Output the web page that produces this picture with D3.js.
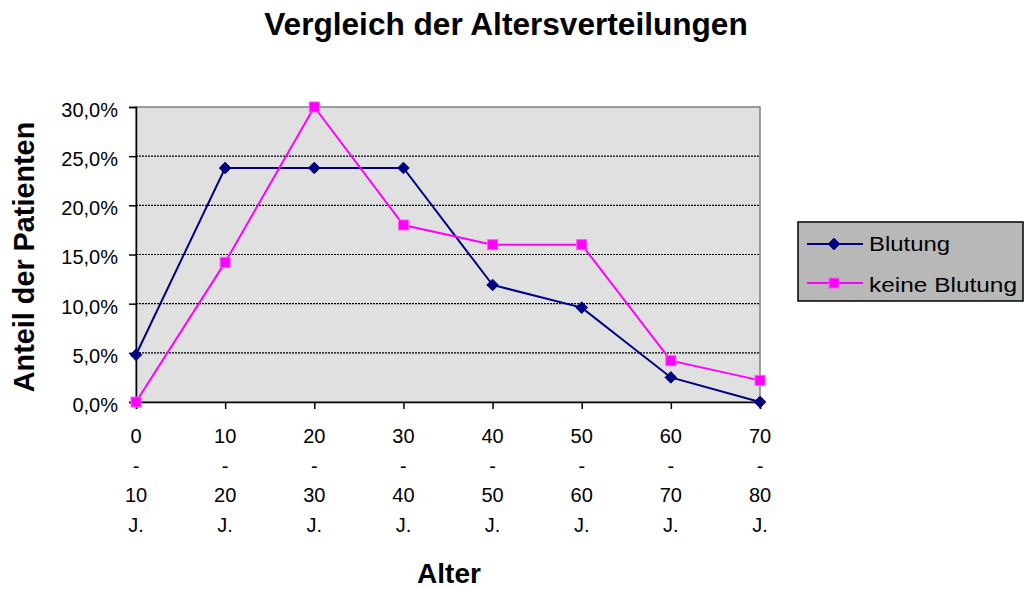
<!DOCTYPE html>
<html>
<head>
<meta charset="utf-8">
<script src="https://cdn.jsdelivr.net/npm/d3@7"></script>
<style>
  html, body { margin: 0; padding: 0; background: #fff; }
  svg { display: block; font-family: "Liberation Sans", Arial, sans-serif; }
</style>
</head>
<body>
<svg id="chart" width="1029" height="589"></svg>
<script>
// Age groups (each label spans four lines)
const categories = [
  ["0", "-", "10", "J."],
  ["10", "-", "20", "J."],
  ["20", "-", "30", "J."],
  ["30", "-", "40", "J."],
  ["40", "-", "50", "J."],
  ["50", "-", "60", "J."],
  ["60", "-", "70", "J."],
  ["70", "-", "80", "J."]
];
const blutung = [4.8, 23.8, 23.8, 23.8, 11.9, 9.6, 2.5, 0.0];
const keineBlutung = [0.0, 14.2, 30.0, 18.0, 16.0, 16.0, 4.2, 2.2];
const yTicks = [0, 5, 10, 15, 20, 25, 30];

const seriesNames = ["Blutung", "keine Blutung"];
const seriesColors = ["#000080", "#ff00ff"];

const svg = d3.select("#chart");
const plot = { left: 136, top: 107, right: 760, bottom: 402 };

const x = d3.scalePoint()
  .domain(d3.range(categories.length))
  .range([plot.left, plot.right])
  .padding(0);
const y = d3.scaleLinear().domain([0, 30]).range([plot.bottom, plot.top]);

// plot background
svg.append("rect")
  .attr("x", plot.left).attr("y", plot.top)
  .attr("width", plot.right - plot.left).attr("height", plot.bottom - plot.top)
  .attr("fill", "#e0e0e0")
  .attr("stroke", "#808080").attr("stroke-width", 1.5);

// horizontal gridlines
svg.append("g").selectAll("line")
  .data(yTicks.filter(d => d > 0 && d < 30))
  .join("line")
  .attr("x1", plot.left).attr("x2", plot.right)
  .attr("y1", d => y(d)).attr("y2", d => y(d))
  .attr("stroke", "#000").attr("stroke-width", 1.2)
  .attr("stroke-dasharray", "2,1");

// y axis
const fmt = d => d.toFixed(1).replace(".", ",") + "%";
const yAxis = svg.append("g")
  .attr("transform", `translate(${plot.left},0)`)
  .call(d3.axisLeft(y).tickValues(yTicks).tickFormat(fmt).tickSize(7).tickPadding(11));
yAxis.select(".domain").attr("stroke", "#000").attr("stroke-width", 1.5);
yAxis.selectAll(".tick line").attr("stroke", "#000").attr("stroke-width", 1.5);
yAxis.selectAll(".tick text")
  .attr("font-size", 20).attr("fill", "#000").attr("dy", "0.47em")
  .attr("font-family", "Liberation Sans, Arial, sans-serif");

// x axis
const xAxis = svg.append("g")
  .attr("transform", `translate(0,${plot.bottom})`)
  .call(d3.axisBottom(x).tickSize(7).tickFormat(""));
xAxis.select(".domain").attr("stroke", "#000").attr("stroke-width", 1.5);
xAxis.selectAll(".tick line").attr("stroke", "#000").attr("stroke-width", 1.5);

// multi-line category labels (baselines)
const labelRows = [443, 472.5, 502, 531.5];
const catG = svg.append("g")
  .attr("font-size", 20).attr("text-anchor", "middle").attr("fill", "#000");
categories.forEach((lines, i) => {
  lines.forEach((t, j) => {
    catG.append("text")
      .attr("x", x(i)).attr("y", labelRows[j])
      .text(t);
  });
});

// series lines and markers
const line = d3.line().x((d, i) => x(i)).y(d => y(d));
const data = [blutung, keineBlutung];

data.forEach((vals, s) => {
  svg.append("path")
    .datum(vals)
    .attr("d", line)
    .attr("fill", "none")
    .attr("stroke", seriesColors[s])
    .attr("stroke-width", 2);
});

function drawMarker(g, s, cx, cy) {
  if (s === 0) {
    const r = 5.8;
    g.append("path")
      .attr("d", `M${cx},${cy - r}L${cx + r},${cy}L${cx},${cy + r}L${cx - r},${cy}Z`)
      .attr("fill", seriesColors[0]).attr("stroke", seriesColors[0]).attr("stroke-width", 1);
  } else {
    const h = 5;
    g.append("rect")
      .attr("x", cx - h).attr("y", cy - h).attr("width", 2 * h).attr("height", 2 * h)
      .attr("fill", seriesColors[1]).attr("stroke", "#ff55ff").attr("stroke-width", 1);
  }
}

data.forEach((vals, s) => {
  const g = svg.append("g");
  vals.forEach((v, i) => drawMarker(g, s, x(i), y(v)));
});

// title
svg.append("text")
  .attr("x", 506).attr("y", 35)
  .attr("text-anchor", "middle")
  .attr("font-size", 31.6).attr("font-weight", "bold")
  .text("Vergleich der Altersverteilungen");

// axis titles
svg.append("text")
  .attr("x", 449).attr("y", 583)
  .attr("text-anchor", "middle")
  .attr("font-size", 28).attr("font-weight", "bold")
  .text("Alter");

svg.append("text")
  .attr("transform", "translate(33.5,257) rotate(-90)")
  .attr("text-anchor", "middle")
  .attr("font-size", 28.8).attr("font-weight", "bold")
  .text("Anteil der Patienten");

// legend
const legendWidths = [81, 148];
const legend = svg.append("g");
legend.append("rect")
  .attr("x", 798).attr("y", 222).attr("width", 225).attr("height", 79)
  .attr("fill", "#b8b8b8").attr("stroke", "#000").attr("stroke-width", 1.5);
seriesNames.forEach((name, s) => {
  const ly = 244 + s * 39;
  legend.append("line")
    .attr("x1", 807).attr("x2", 863).attr("y1", ly).attr("y2", ly)
    .attr("stroke", seriesColors[s]).attr("stroke-width", 2);
  drawMarker(legend, s, 834, ly);
  legend.append("text")
    .attr("x", 869).attr("y", 251 + s * 40.5)
    .attr("font-size", 20).attr("fill", "#000")
    .attr("textLength", legendWidths[s]).attr("lengthAdjust", "spacingAndGlyphs")
    .text(name);
});
</script>
</body>
</html>
